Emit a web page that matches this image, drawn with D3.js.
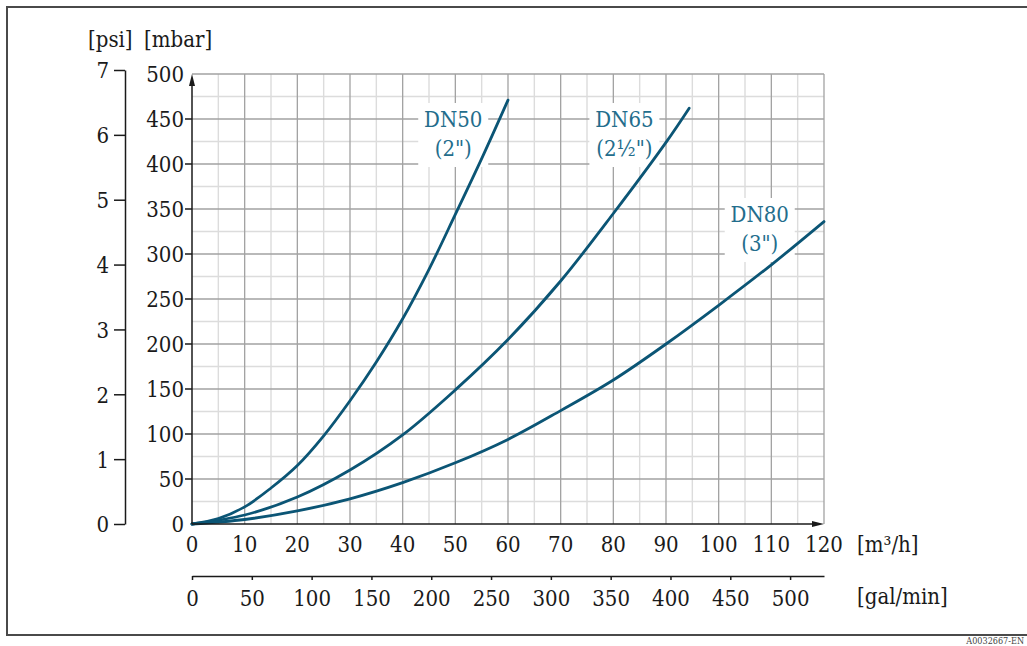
<!DOCTYPE html>
<html>
<head>
<meta charset="utf-8">
<script src="https://cdn.jsdelivr.net/npm/d3@7"></script>
<style>
  html, body { margin: 0; padding: 0; background: #fff; }
  svg { display: block; }
  text { font-family: "DejaVu Serif Condensed", "DejaVu Serif", serif; }
</style>
</head>
<body>
<svg id="chart" width="1027" height="646"></svg>
<script>
// Pressure loss vs flow, three nominal diameters
const dn50Flow = [0, 5, 10, 15, 20, 25, 30, 35, 40, 45, 50, 55, 60];
const dn50Loss = [0, 6, 19, 40, 65, 98, 137, 180, 228, 283, 344, 406, 471];
const dn65Flow = [0, 10, 20, 30, 40, 50, 60, 70, 80, 90, 94.4];
const dn65Loss = [0, 10, 30, 60, 99, 149, 205, 270, 345, 424, 462];
const dn80Flow = [0, 10, 20, 30, 40, 50, 60, 70, 80, 90, 100, 110, 120];
const dn80Loss = [0, 5, 14.5, 28, 46, 68, 94, 126, 160, 200, 243, 288, 336];

const seriesNames = ['DN50', 'DN65', 'DN80'];
const seriesSizes = ['(2")', '(2½")', '(3")'];

const flowTicks = d3.range(0, 121, 10);        // m³/h
const galTicks = d3.range(0, 501, 50);         // gal/min
const mbarTicks = d3.range(0, 501, 50);
const psiTicks = d3.range(0, 8, 1);
const GAL_PER_M3H = 4.40287;

(function () {
  const svg = d3.select('#chart');
  const INK = '#1a1a1a', LINE = '#0b5575', LABEL = '#236d8c';

  const x = d3.scaleLinear().domain([0, 120]).range([192, 824]);
  const y = d3.scaleLinear().domain([0, 500]).range([524, 74]);
  const yPsi = d3.scaleLinear().domain([0, 7]).range([524, 70]);
  const xGal = d3.scaleLinear().domain([0, 120 * GAL_PER_M3H]).range([192, 824]);

  // frame
  svg.append('path')
    .attr('d', 'M1030,7 H7 V635 H1030')
    .attr('fill', 'none').attr('stroke', '#4a4a4a').attr('stroke-width', 2);

  // ---- grid ----
  const grid = svg.append('g');
  const minorX = d3.range(5, 120, 10), minorY = d3.range(25, 500, 50);
  grid.selectAll('.vm').data(minorX).join('line')
    .attr('x1', d => x(d)).attr('x2', d => x(d)).attr('y1', y(0)).attr('y2', y(500))
    .attr('stroke', '#dcdcdc').attr('stroke-width', 1.4);
  grid.selectAll('.hm').data(minorY).join('line')
    .attr('x1', x(0)).attr('x2', x(120)).attr('y1', d => y(d)).attr('y2', d => y(d))
    .attr('stroke', '#dcdcdc').attr('stroke-width', 1.4);
  grid.selectAll('.vM').data(flowTicks.slice(1)).join('line')
    .attr('x1', d => x(d)).attr('x2', d => x(d)).attr('y1', y(0)).attr('y2', y(500))
    .attr('stroke', '#a2a2a2').attr('stroke-width', 1.3);
  grid.selectAll('.hM').data(mbarTicks.slice(1)).join('line')
    .attr('x1', x(0)).attr('x2', x(120)).attr('y1', d => y(d)).attr('y2', d => y(d))
    .attr('stroke', '#a2a2a2').attr('stroke-width', 1.3);

  // ---- label boxes (white, hide the grid) ----
  const labelPos = [
    { fx: 49.6, fy: 127 },
    { fx: 82.1, fy: 127 },
    { fx: 107.8, fy: 222 }
  ];
  const labels = svg.append('g');
  labelPos.forEach((p, i) => {
    const cx = x(p.fx);
    labels.append('rect')
      .attr('x', cx - 35).attr('y', p.fy - 24).attr('width', 70).attr('height', 64)
      .attr('fill', '#fff');
  });

  // ---- curves ----
  const line = d3.line().x(d => x(d[0])).y(d => y(d[1])).curve(d3.curveCatmullRom.alpha(0.5));
  const series = [
    d3.zip(dn50Flow, dn50Loss),
    d3.zip(dn65Flow, dn65Loss),
    d3.zip(dn80Flow, dn80Loss)
  ];
  svg.append('g').selectAll('path').data(series).join('path')
    .attr('d', line).attr('fill', 'none')
    .attr('stroke', LINE).attr('stroke-width', 2.8).attr('stroke-linecap', 'round');

  labelPos.forEach((p, i) => {
    const cx = x(p.fx);
    labels.append('text').attr('x', cx).attr('y', p.fy)
      .attr('text-anchor', 'middle').attr('font-size', 22).attr('fill', LABEL)
      .text(seriesNames[i]);
    labels.append('text').attr('x', cx).attr('y', p.fy + 29)
      .attr('text-anchor', 'middle').attr('font-size', 22).attr('fill', LABEL)
      .text(seriesSizes[i]);
  });

  // ---- main axes with arrows ----
  const ax = svg.append('g').attr('stroke', INK).attr('stroke-width', 1.5);
  ax.append('line').attr('x1', x(0)).attr('x2', x(120) - 8).attr('y1', y(0)).attr('y2', y(0));
  ax.append('line').attr('x1', x(0)).attr('x2', x(0)).attr('y1', y(0)).attr('y2', y(500) + 8);
  svg.append('path')
    .attr('d', `M${x(120)},${y(0)} l-12,-3 v6 z`).attr('fill', INK);
  svg.append('path')
    .attr('d', `M${x(0)},${y(500)} l-3,12 h6 z`).attr('fill', INK);

  // mbar ticks and labels
  ax.selectAll('.mt').data(mbarTicks.slice(1, -1)).join('line')
    .attr('x1', x(0) - 7).attr('x2', x(0)).attr('y1', d => y(d)).attr('y2', d => y(d));
  svg.append('g').selectAll('text').data(mbarTicks).join('text')
    .attr('x', 184).attr('y', d => y(d) + 8)
    .attr('text-anchor', 'end').attr('font-size', 22).attr('fill', INK)
    .text(d => d);

  // flow tick labels
  svg.append('g').selectAll('text').data(flowTicks).join('text')
    .attr('x', d => x(d)).attr('y', 552)
    .attr('text-anchor', 'middle').attr('font-size', 22).attr('fill', INK)
    .text(d => d);

  // psi axis
  const psiAxis = svg.append('g').attr('transform', 'translate(125,0)')
    .call(d3.axisLeft(yPsi).tickValues(psiTicks).tickFormat(d3.format('d'))
      .tickSize(11).tickSizeOuter(0).tickPadding(5));
  psiAxis.select('.domain').attr('stroke', INK).attr('stroke-width', 1.5);
  psiAxis.selectAll('.tick line').attr('stroke', INK).attr('stroke-width', 1.5);
  psiAxis.selectAll('.tick text')
    .attr('font-family', '"DejaVu Serif Condensed", "DejaVu Serif", serif')
    .attr('font-size', 22).attr('fill', INK).attr('dy', '0.36em');

  // gal/min axis
  const galAxis = svg.append('g').attr('transform', 'translate(0,576)')
    .call(d3.axisBottom(xGal).tickValues(galTicks).tickSize(4).tickSizeOuter(0).tickPadding(10));
  galAxis.select('.domain').attr('stroke', INK).attr('stroke-width', 1.5);
  galAxis.selectAll('.tick line').attr('stroke', INK).attr('stroke-width', 1.5);
  galAxis.selectAll('.tick text')
    .attr('font-family', '"DejaVu Serif Condensed", "DejaVu Serif", serif')
    .attr('font-size', 22).attr('fill', INK);

  // units
  const unit = (tx, ty, t) => svg.append('text').attr('x', tx).attr('y', ty)
    .attr('font-size', 22).attr('fill', INK).text(t);
  unit(88, 47, '[psi]');
  unit(144, 47, '[mbar]');
  unit(857, 552, '[m³/h]');
  unit(857, 604, '[gal/min]');

  svg.append('text').attr('x', 1024).attr('y', 644).attr('text-anchor', 'end')
    .attr('font-family', 'DejaVu Sans Condensed, DejaVu Sans, sans-serif')
    .attr('font-size', 9).attr('fill', '#444').text('A0032667-EN');
})();
</script>
</body>
</html>
